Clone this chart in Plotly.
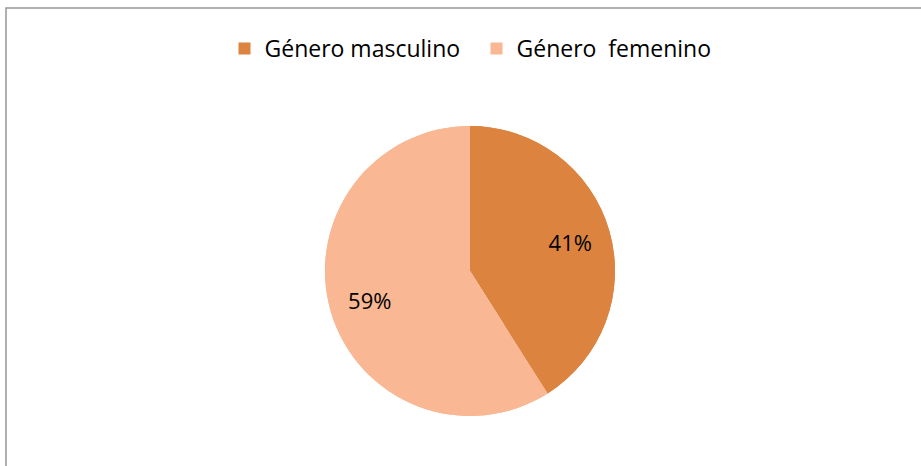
import plotly.graph_objects as go

labels = ["Género masculino", "Género  femenino"]
values = [41, 59]
colors = ["#DC843F", "#F9B793"]

W, H = 921, 466
cx, cy, r = 470, 271, 145
dom = dict(x=[(cx - r) / W, (cx + r) / W], y=[(H - cy - r) / H, (H - cy + r) / H])

fig = go.Figure()
# full pie underneath (fills the centre)
fig.add_trace(go.Pie(
    labels=labels, values=values,
    marker=dict(colors=colors, line=dict(width=0)),
    sort=False, direction="clockwise", rotation=0,
    textinfo="none", hoverinfo="skip", showlegend=False,
    domain=dom,
))
# ring on top carrying the percentage labels
fig.add_trace(go.Pie(
    labels=labels, values=values, hole=0.44,
    marker=dict(colors=colors, line=dict(width=0)),
    sort=False, direction="clockwise", rotation=0,
    texttemplate="%{percent:.0%}",
    textposition="inside",
    insidetextorientation="horizontal",
    insidetextfont=dict(color="#000000", size=22),
    hoverinfo="label+percent",
    domain=dom,
))

fig.update_layout(
    width=W, height=H,
    margin=dict(l=0, r=0, t=0, b=0),
    paper_bgcolor="white",
    font=dict(family="Open Sans, Noto Sans, sans-serif", size=23, color="#000000"),
    showlegend=True,
    legend=dict(orientation="h", x=0.5 + 16 / W, xanchor="center", y=1 - 48.5 / H, yanchor="middle",
                font=dict(size=23), itemwidth=30, traceorder="normal",
                entrywidth=207, entrywidthmode="pixels"),
    shapes=[dict(type="rect", xref="paper", yref="paper", x0=6 / W, x1=1.01, y0=-0.01, y1=1 - 8 / H,
                 line=dict(color="#969696", width=1.5))],
)

fig.write_html("out.html", config={"displayModeBar": False},
               post_script="document.body.style.margin='0';document.body.style.padding='0';")
